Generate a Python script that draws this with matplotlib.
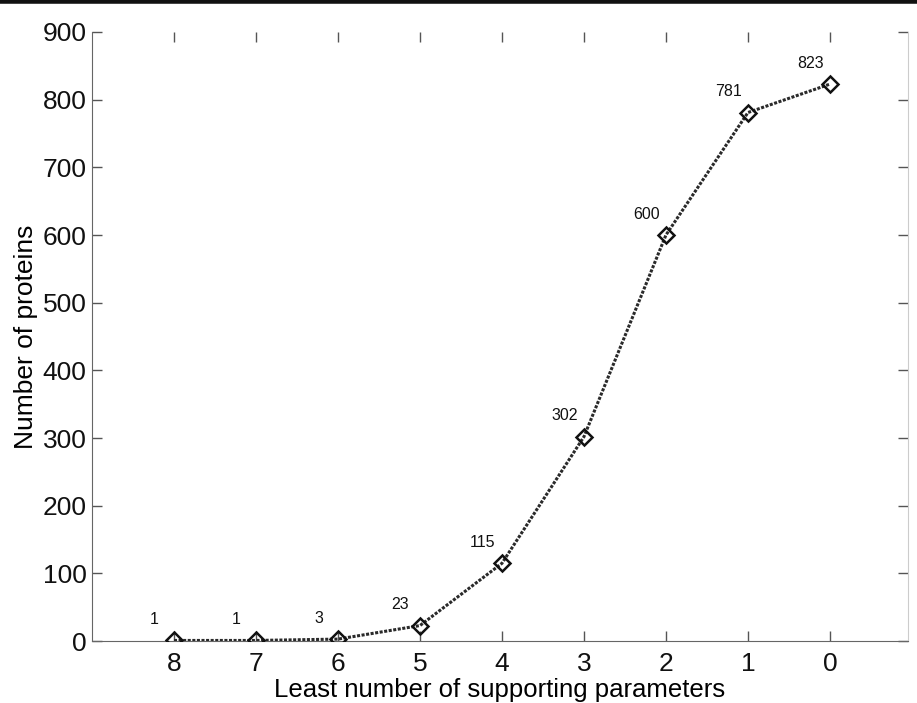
import numpy as np
import matplotlib as mpl
mpl.use('Agg')
import matplotlib.pyplot as plt
from matplotlib.lines import Line2D

mpl.rcParams.update({'font.family': ['Liberation Sans', 'DejaVu Sans']})

# data
params = [8, 7, 6, 5, 4, 3, 2, 1, 0]
proteins = [1, 1, 3, 23, 115, 302, 600, 781, 823]
yticks = list(range(0, 901, 100))

fig = plt.figure(figsize=(9.17, 7.03), dpi=100)
ax = fig.add_axes([0.1003, 0.088, 0.8897, 0.8665])

# black rule along the top edge of the figure
fig.add_artist(Line2D([0, 1], [0.998, 0.998], transform=fig.transFigure,
                      color='#111', lw=4))

ax.plot(params, proteins, color='#2a2a2a', lw=2.2, ls=(0, (1, 0.5)),
        marker='D', ms=8.5, mfc='none', mec='#111', mew=1.8, zorder=3)

for x, y in zip(params, proteins):
    ax.annotate(str(y), (x, y), xytext=(-14, 15), textcoords='offset points',
                ha='center', va='center', fontsize=11.5, color='#111')

ax.set_xlim(9, -0.95)
ax.set_ylim(0, 900)
ax.set_xticks(params)
ax.set_yticks(yticks)

ax.tick_params(axis='both', direction='in', length=7, width=1, labelsize=19,
               colors='#555', labelcolor='#111')
ax.tick_params(axis='x', top=True, pad=8)
ax.tick_params(axis='y', right=True, pad=4)

ax.spines['top'].set_visible(False)
ax.spines['right'].set_color('#cccccc')
ax.spines['left'].set_color('#666')
ax.spines['bottom'].set_color('#666')

ax.set_xlabel('Least number of supporting parameters', fontsize=18.5, labelpad=1)
ax.set_ylabel('Number of proteins', fontsize=19, labelpad=3)

fig.savefig('out.png', dpi=100)
